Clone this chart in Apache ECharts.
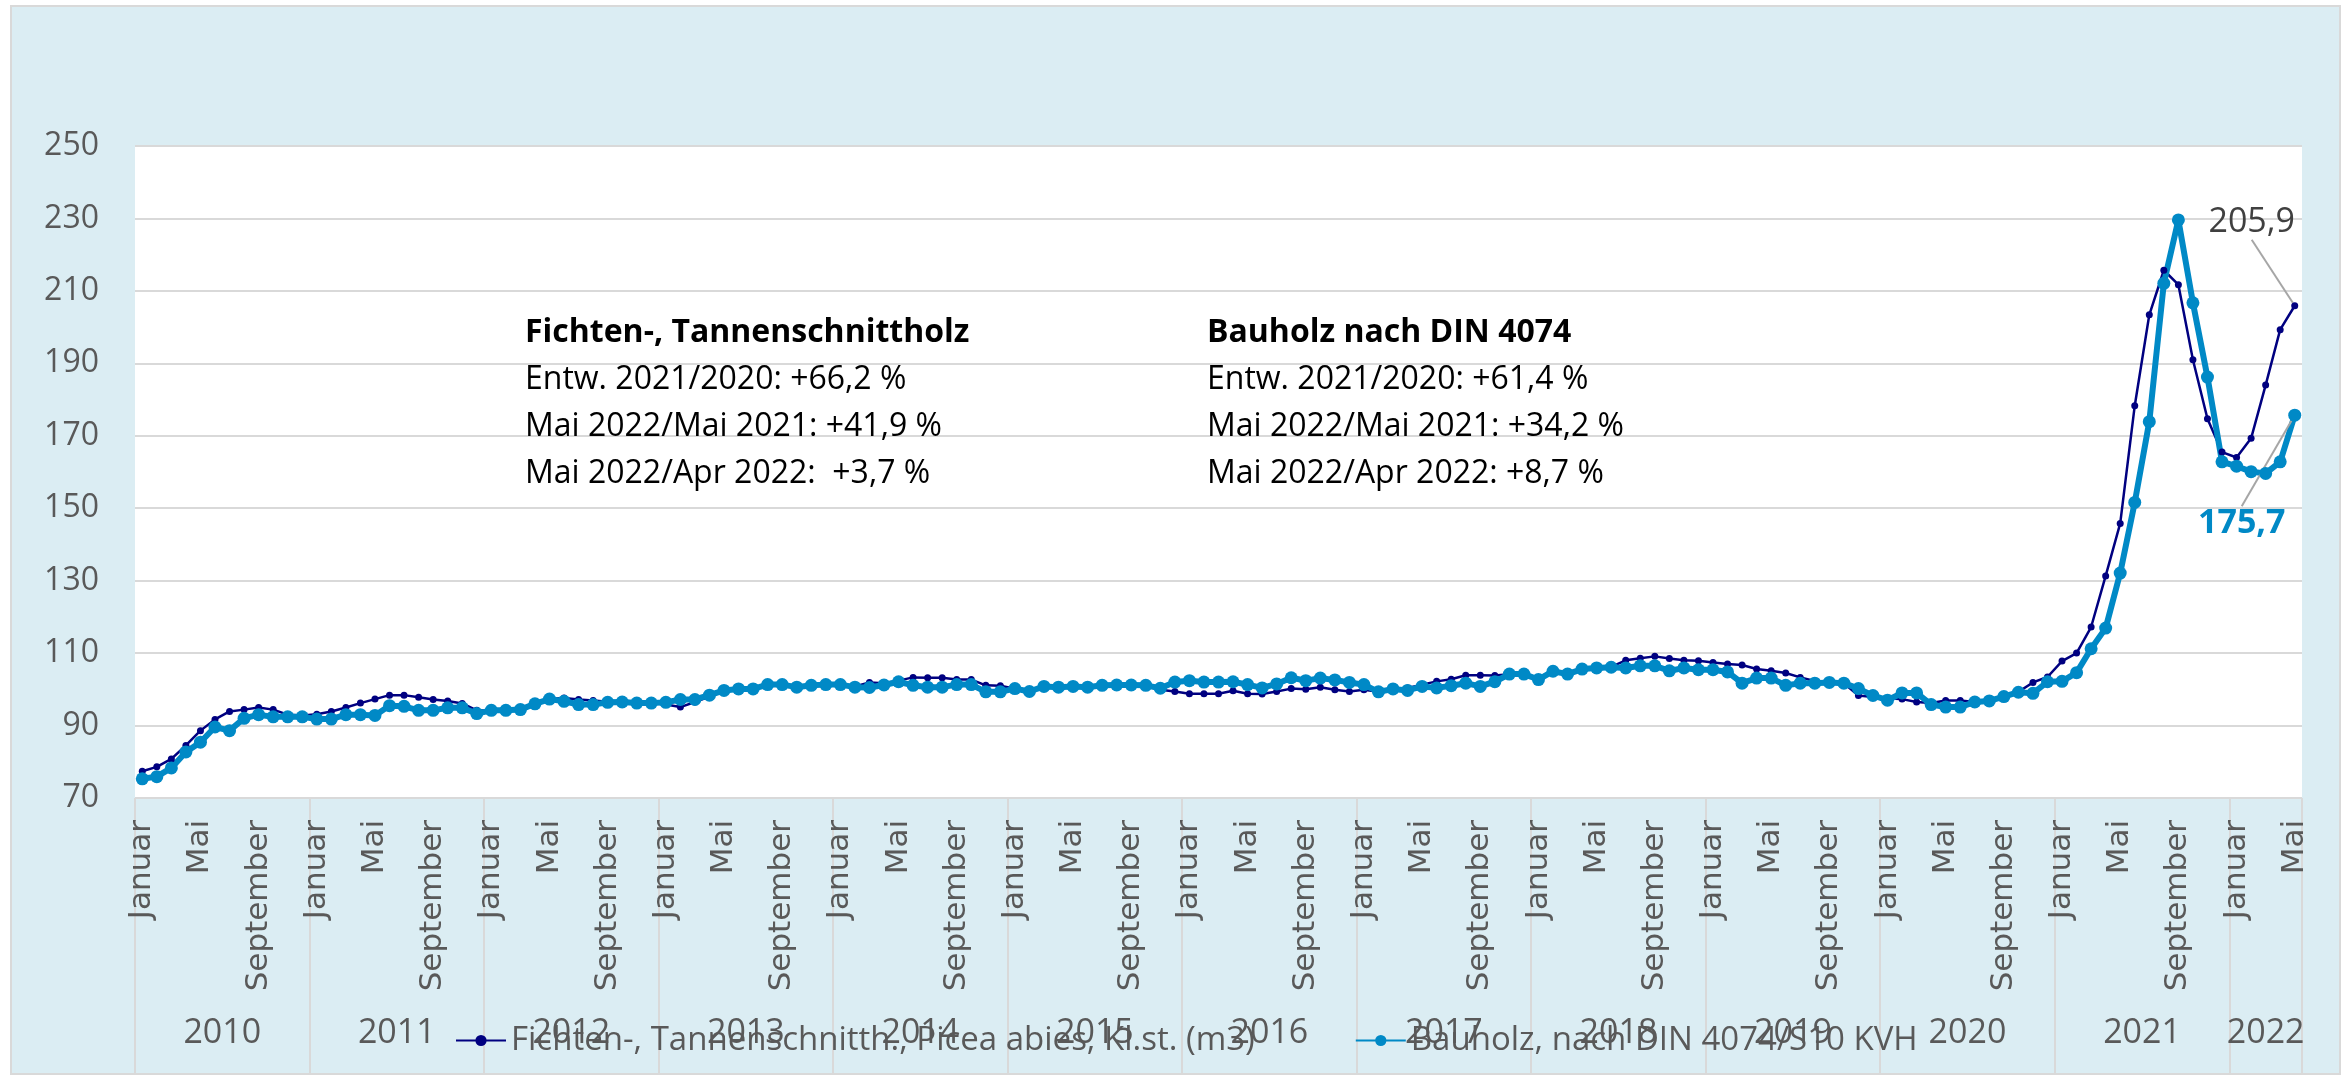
<!DOCTYPE html>
<html>
<head>
<meta charset="utf-8">
<title>Schnittholz Preisindex</title>
<script src="https://cdn.jsdelivr.net/npm/echarts@6/dist/echarts.min.js"></script>
<style>
  html, body { margin: 0; padding: 0; background: #fff; }
  #chart { width: 2351px; height: 1079px; }
</style>
</head>
<body>
<div id="chart"></div>
<script>
var months = ['Januar', 'Februar', 'März', 'April', 'Mai', 'Juni', 'Juli', 'August', 'September', 'Oktober', 'November', 'Dezember'];
var years = ['2010', '2011', '2012', '2013', '2014', '2015', '2016', '2017', '2018', '2019', '2020', '2021', '2022'];
var monthsInLastYear = 5;

// Fichten-, Tannenschnittholz (Jan 2010 - Mai 2022)
var fichten = [
  77.4, 78.6, 80.8, 84.5, 88.6, 91.7, 93.9, 94.4, 95.0, 94.4, 93.0, 92.8,
  93.1, 93.9, 95.0, 96.2, 97.3, 98.4, 98.4, 97.8, 97.2, 96.8, 96.1, 94.2,
  94.0, 94.2, 94.4, 96.0, 97.3, 97.6, 97.2, 96.9, 96.6, 96.5, 96.2, 96.2,
  95.8, 95.1, 96.5, 98.0, 99.5, 100.0, 100.2, 101.0, 101.2, 100.8, 101.0, 101.1,
  101.3, 100.8, 101.9, 101.7, 102.4, 103.3, 103.2, 103.2, 102.7, 102.7, 101.1, 101.0,
  100.2, 99.8, 100.6, 100.6, 100.8, 100.6, 101.1, 101.2, 101.2, 101.1, 99.9, 99.4,
  98.8, 98.8, 98.8, 99.6, 98.8, 98.7, 99.4, 100.2, 100.0, 100.6, 99.9, 99.4,
  99.9, 99.3, 100.0, 100.4, 101.3, 102.2, 102.8, 103.9, 103.9, 103.8, 104.2, 104.2,
  103.3, 105.0, 104.5, 105.8, 106.0, 106.2, 108.0, 108.6, 109.1, 108.5, 108.0, 107.9,
  107.4, 107.0, 106.7, 105.6, 105.1, 104.5, 103.3, 102.3, 102.0, 101.7, 98.3, 97.9,
  97.5, 97.3, 96.5, 96.2, 96.9, 96.9, 96.5, 96.9, 97.9, 99.3, 101.9, 103.4,
  107.8, 110.0, 117.2, 131.3, 145.8, 178.3, 203.4, 215.7, 211.7, 191.0, 174.7, 165.5,
  164.0, 169.3, 184.0, 199.3, 205.9
];

// Bauholz nach DIN 4074/S10 KVH
var bauholz = [
  75.3, 75.9, 78.3, 82.7, 85.4, 89.6, 88.6, 92.0, 93.0, 92.4, 92.4, 92.4,
  91.8, 91.8, 93.0, 93.0, 92.8, 95.5, 95.3, 94.2, 94.2, 94.9, 94.9, 93.3,
  94.2, 94.2, 94.4, 96.0, 97.3, 96.7, 95.8, 95.8, 96.4, 96.5, 96.2, 96.2,
  96.4, 97.2, 97.2, 98.4, 99.7, 100.1, 100.1, 101.3, 101.3, 100.6, 101.1, 101.3,
  101.3, 100.6, 100.5, 101.2, 102.1, 101.1, 100.6, 100.6, 101.3, 101.3, 99.3, 99.3,
  100.2, 99.4, 100.8, 100.6, 100.8, 100.6, 101.1, 101.2, 101.2, 101.1, 100.3, 102.0,
  102.4, 102.0, 102.0, 102.1, 101.3, 100.4, 101.5, 103.2, 102.4, 103.1, 102.6, 101.9,
  101.3, 99.3, 100.1, 99.7, 100.8, 100.4, 101.0, 101.7, 100.8, 102.1, 104.2, 104.2,
  102.7, 105.0, 104.2, 105.6, 105.9, 106.1, 105.9, 106.5, 106.5, 105.1, 105.9, 105.4,
  105.4, 104.8, 101.7, 103.1, 103.1, 101.1, 101.7, 101.7, 101.9, 101.7, 100.2, 98.3,
  97.0, 99.0, 99.0, 95.8, 95.1, 95.1, 96.5, 96.8, 98.0, 99.2, 98.9, 102.1,
  102.2, 104.6, 111.2, 116.9, 132.1, 151.6, 173.9, 212.1, 229.6, 206.7, 186.2, 162.8,
  161.6, 160.1, 159.6, 162.8, 175.7
];

var yMin = 70, yMax = 250, yStep = 20;

var noteFichten = ['Fichten-, Tannenschnittholz', 'Entw. 2021/2020: +66,2 %', 'Mai 2022/Mai 2021: +41,9 %', 'Mai 2022/Apr 2022:  +3,7 %'];
var noteBauholz = ['Bauholz nach DIN 4074', 'Entw. 2021/2020: +61,4 %', 'Mai 2022/Mai 2021: +34,2 %', 'Mai 2022/Apr 2022: +8,7 %'];

// Kategorien und Jahresmitten
var categories = [];
var yearMid = {};
years.forEach(function (y, k) {
  var n = (k === years.length - 1) ? monthsInLastYear : 12;
  yearMid[categories.length + n / 2] = y;
  for (var m = 0; m < n; m++) categories.push(months[m] + ' ' + y);
});

var font = 'Open Sans';
var grey = '#595959';
var fmt = function (v) { return v.toFixed(1).replace('.', ','); };

function withLastLabel(arr, label) {
  return arr.map(function (v, i) {
    if (i < arr.length - 1) return v;
    return { value: v, label: label };
  });
}

var notes = [];
[[noteFichten, 525], [noteBauholz, 1207]].forEach(function (block) {
  block[0].forEach(function (t, i) {
    notes.push({
      type: 'text', x: block[1], y: 333 + i * 47, z: 50,
      style: {
        text: t, fill: '#000', font: (i === 0 ? 'bold ' : '') + '32px "Open Sans"',
        verticalAlign: 'middle'
      }
    });
  });
});

var chart = echarts.init(document.getElementById('chart'));
chart.setOption({
  animation: false,
  backgroundColor: '#fff',
  textStyle: { fontFamily: font },
  graphic: [{
    type: 'rect', z: -10, silent: true,
    shape: { x: 11, y: 6, width: 2329, height: 1068 },
    style: { fill: '#dbedf3', stroke: '#d9d9d9', lineWidth: 2 }
  }].concat(notes),
  grid: {
    left: 135, right: 49, top: 146, bottom: 281,
    show: true, backgroundColor: '#fff', borderWidth: 0
  },
  legend: {
    left: 450, top: 1019,
    itemWidth: 50, itemHeight: 14, itemGap: 100,
    textStyle: { fontSize: 33, color: grey, fontFamily: font }
  },
  xAxis: [{
    type: 'category',
    data: categories,
    boundaryGap: true,
    axisLine: { show: false },
    axisTick: {
      show: true, alignWithLabel: false, length: 275,
      interval: function (i) { return i % 12 === 0; },
      lineStyle: { color: '#d9d9d9', width: 2 }
    },
    axisLabel: {
      interval: 3, rotate: 90, margin: 22,
      fontFamily: 'DejaVu Sans', fontSize: 31, color: grey,
      formatter: function (v) { return v.split(' ')[0]; }
    }
  }, {
    type: 'value', min: 0, max: categories.length, interval: 0.5,
    position: 'bottom',
    axisLine: { show: false }, axisTick: { show: false }, splitLine: { show: false },
    axisLabel: {
      margin: 218, fontSize: 34, color: grey, fontFamily: font,
      showMinLabel: true, showMaxLabel: true,
      formatter: function (v) { return yearMid[v] || ''; }
    }
  }],
  yAxis: {
    type: 'value', min: yMin, max: yMax, interval: yStep,
    axisLine: { show: false }, axisTick: { show: false },
    splitLine: { lineStyle: { color: '#d9d9d9', width: 2 } },
    axisLabel: { fontSize: 32, color: grey, margin: 36, fontFamily: font }
  },
  series: [{
    name: 'Fichten-, Tannenschnitth., Picea abies, Kl.st. (m3)',
    type: 'line',
    data: withLastLabel(fichten, {
      show: true, position: 'inside', color: '#404040', fontSize: 34, fontFamily: font,
      formatter: function (p) { return fmt(p.value); }
    }),
    color: '#000080',
    symbol: 'circle', symbolSize: 7, showAllSymbol: true,
    lineStyle: { width: 2.5, color: '#000080' },
    labelLayout: { dx: -43, dy: -83 },
    labelLine: { show: true, lineStyle: { color: '#a6a6a6', width: 2 } }
  }, {
    name: 'Bauholz, nach DIN 4074/S10 KVH',
    type: 'line',
    data: withLastLabel(bauholz, {
      show: true, position: 'inside', color: '#0089c6', fontSize: 34, fontWeight: 'bold', fontFamily: font,
      formatter: function (p) { return fmt(p.value); }
    }),
    color: '#0089c6',
    symbol: 'circle', symbolSize: 13, showAllSymbol: true,
    lineStyle: { width: 6, color: '#0089c6' },
    labelLayout: { dx: -53, dy: 108 },
    labelLine: { show: true, lineStyle: { color: '#a6a6a6', width: 2 } }
  }]
});
</script>
</body>
</html>
